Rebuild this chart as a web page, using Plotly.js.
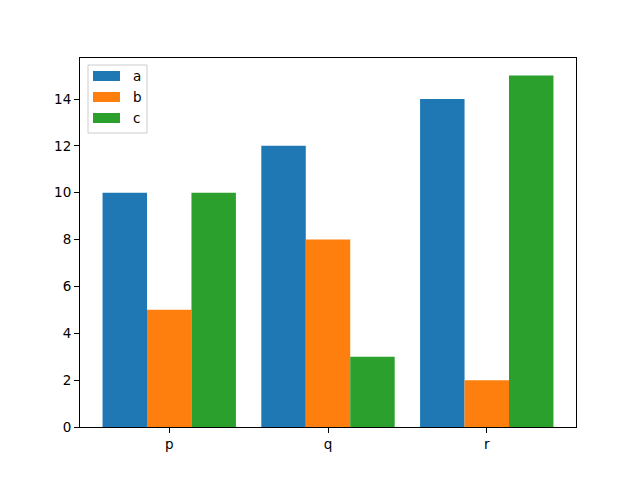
<!DOCTYPE html>
<html>
<head>
<meta charset="utf-8">
<script src="https://cdn.plot.ly/plotly-3.0.1.min.js"></script>
<style>
  html, body { margin: 0; padding: 0; background: #fff; }
  #chart { width: 640px; height: 480px; }
</style>
</head>
<body>
<div id="chart"></div>
<script>
// categories and series
const categories = ['p', 'q', 'r']
const seriesNames = ['a', 'b', 'c']
const valuesA = [10, 12, 14]
const valuesB = [5, 8, 2]
const valuesC = [10, 3, 15]
const colors = ['#1f77b4', '#ff7f0e', '#2ca02c']

const font = { family: 'DejaVu Sans, sans-serif', size: 13.5, color: '#000' }

const data = [valuesA, valuesB, valuesC].map(function (vals, i) {
  return {
    type: 'bar',
    x: categories,
    y: vals,
    name: seriesNames[i],
    marker: { color: colors[i], line: { width: 0 } },
    hoverinfo: 'none'
  }
})

// plot area in pixels: x 80..576, y 58..427
const L = 80, R = 576, T = 58, B = 427
const px = function (x) { return (x - L) / (R - L) }
const py = function (y) { return (B - y) / (B - T) }

// hand-drawn legend so the swatches look like matplotlib's
const shapes = [{
  type: 'rect', xref: 'paper', yref: 'paper',
  x0: px(88), x1: px(147), y0: py(133), y1: py(65),
  line: { color: '#cccccc', width: 1 },
  fillcolor: 'rgba(255,255,255,0.8)'
}]
const annotations = []
seriesNames.forEach(function (name, i) {
  const cy = 76 + i * 21
  shapes.push({
    type: 'rect', xref: 'paper', yref: 'paper',
    x0: px(93), x1: px(120), y0: py(cy + 5), y1: py(cy - 5),
    line: { width: 0 }, fillcolor: colors[i]
  })
  annotations.push({
    xref: 'paper', yref: 'paper', x: px(131), y: py(cy),
    xanchor: 'left', yanchor: 'middle', showarrow: false,
    text: name, font: font
  })
})

const layout = {
  width: 640,
  height: 480,
  margin: { l: L, r: 640 - R, t: T, b: 480 - B, pad: 0 },
  paper_bgcolor: '#fff',
  plot_bgcolor: '#fff',
  font: font,
  showlegend: false,
  barmode: 'group',
  bargap: 0.16,
  bargroupgap: 0,
  xaxis: {
    type: 'category',
    range: [-0.562, 2.562],
    showgrid: false,
    zeroline: false,
    showline: true,
    linecolor: '#000',
    linewidth: 1,
    mirror: true,
    ticks: 'outside',
    ticklen: 5,
    tickcolor: '#000',
    tickfont: font
  },
  yaxis: {
    range: [0, 15.75],
    tickmode: 'linear',
    tick0: 0,
    dtick: 2,
    showgrid: false,
    zeroline: false,
    showline: true,
    linecolor: '#000',
    linewidth: 1,
    mirror: true,
    ticks: 'outside',
    ticklen: 5,
    tickcolor: '#000',
    tickfont: font
  },
  shapes: shapes,
  annotations: annotations
}

Plotly.newPlot('chart', data, layout, { displayModeBar: false, staticPlot: true })
</script>
</body>
</html>
